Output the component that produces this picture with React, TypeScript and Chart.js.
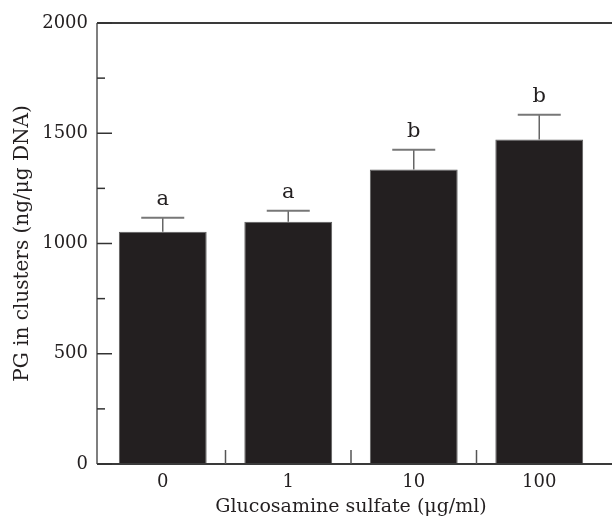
import React, { useEffect, useRef } from 'react';
import { Chart, registerables } from 'chart.js';

Chart.register(...registerables);

const categories = ['0', '1', '10', '100'];
const means = [1053, 1099, 1336, 1472];
const errors = [64, 50, 89, 112];
const letters = ['a', 'a', 'b', 'b'];
const yMin = 0;
const yMax = 2000;
const yMajorStep = 500;
const yMinorStep = 250;

const FONT = "'DejaVu Serif', serif";
const INK = '#231f20';

const decorations = {
  id: 'decorations',
  afterDatasetsDraw(chart: any) {
    const { ctx, chartArea, scales } = chart;
    const x = scales.x;
    const y = scales.y;
    const axisX = chartArea.left - 3;
    const yTop = y.getPixelForValue(yMax);
    const yBot = y.getPixelForValue(yMin);
    const right = chart.width;
    ctx.save();
    // frame lines
    ctx.strokeStyle = '#3a3a3a';
    ctx.lineWidth = 2;
    ctx.beginPath();
    ctx.moveTo(axisX, yTop);
    ctx.lineTo(right, yTop);
    ctx.moveTo(axisX, yBot);
    ctx.lineTo(right, yBot);
    ctx.stroke();
    ctx.strokeStyle = '#555';
    ctx.lineWidth = 1.5;
    ctx.beginPath();
    ctx.moveTo(axisX, yTop);
    ctx.lineTo(axisX, yBot);
    ctx.stroke();
    // y ticks (inward)
    ctx.strokeStyle = '#333';
    ctx.lineWidth = 1.5;
    y.ticks.forEach((t: any) => {
      const py = y.getPixelForValue(t.value);
      const len = t.value % yMajorStep === 0 ? 15 : 8;
      ctx.beginPath();
      ctx.moveTo(axisX, py);
      ctx.lineTo(axisX + len, py);
      ctx.stroke();
    });
    // x ticks between categories (inward)
    ctx.strokeStyle = '#555';
    for (let i = 0; i < categories.length - 1; i++) {
      const px = (x.getPixelForValue(i) + x.getPixelForValue(i + 1)) / 2;
      ctx.beginPath();
      ctx.moveTo(px, yBot);
      ctx.lineTo(px, yBot - 14);
      ctx.stroke();
    }
    // error bars and letters
    const meta = chart.getDatasetMeta(0);
    meta.data.forEach((bar: any, i: number) => {
      const top = y.getPixelForValue(means[i]);
      const cap = y.getPixelForValue(means[i] + errors[i]);
      ctx.strokeStyle = '#666';
      ctx.lineWidth = 1.5;
      ctx.beginPath();
      ctx.moveTo(bar.x, top);
      ctx.lineTo(bar.x, cap);
      ctx.stroke();
      ctx.strokeStyle = '#777';
      ctx.lineWidth = 2;
      ctx.beginPath();
      ctx.moveTo(bar.x - 21.5, cap);
      ctx.lineTo(bar.x + 21.5, cap);
      ctx.stroke();
      ctx.fillStyle = INK;
      ctx.font = `21px ${FONT}`;
      ctx.textAlign = 'center';
      ctx.textBaseline = 'alphabetic';
      ctx.fillText(letters[i], bar.x, cap - 13);
    });
    ctx.restore();
  },
};

export default function App() {
  const ref = useRef<HTMLCanvasElement | null>(null);
  useEffect(() => {
    if (!ref.current) return;
    const chart = new Chart(ref.current, {
      type: 'bar',
      data: {
        labels: categories,
        datasets: [
          {
            data: means,
            backgroundColor: INK,
            borderColor: '#5e5e5e',
            borderWidth: 1,
            barPercentage: 0.7,
            categoryPercentage: 1,
          },
        ],
      },
      options: {
        responsive: false,
        animation: false,
        devicePixelRatio: 1,
        layout: { padding: { left: 0, top: 23, right: 10, bottom: 0 } },
        plugins: { legend: { display: false }, tooltip: { enabled: false } },
        scales: {
          x: {
            offset: true,
            grid: { display: false, drawTicks: false },
            border: { display: false },
            ticks: { color: INK, font: { family: FONT, size: 18 }, padding: 8 },
            title: {
              display: true,
              text: 'Glucosamine sulfate (μg/ml)',
              color: INK,
              font: { family: FONT, size: 19 },
              padding: 0,
            },
            afterFit: (s: any) => {
              s.height = 54;
            },
          },
          y: {
            min: yMin,
            max: yMax,
            grid: { display: false, drawTicks: false },
            border: { display: false },
            ticks: {
              stepSize: yMinorStep,
              autoSkip: false,
              color: INK,
              font: { family: FONT, size: 18 },
              padding: 12,
              callback: (v: any) => (Number(v) % yMajorStep === 0 ? String(v) : ''),
            },
            title: {
              display: true,
              text: 'PG in clusters (ng/μg DNA)',
              color: INK,
              font: { family: FONT, size: 20 },
              padding: { top: 11, bottom: 0 },
            },
            afterFit: (s: any) => {
              s.width = 100;
            },
          },
        },
      },
      plugins: [decorations],
    });
    return () => chart.destroy();
  }, []);
  return (
    <div style={{ position: 'absolute', left: 0, top: 0, width: 612, height: 518, background: '#fff' }}>
      <canvas ref={ref} width={612} height={518} />
    </div>
  );
}
